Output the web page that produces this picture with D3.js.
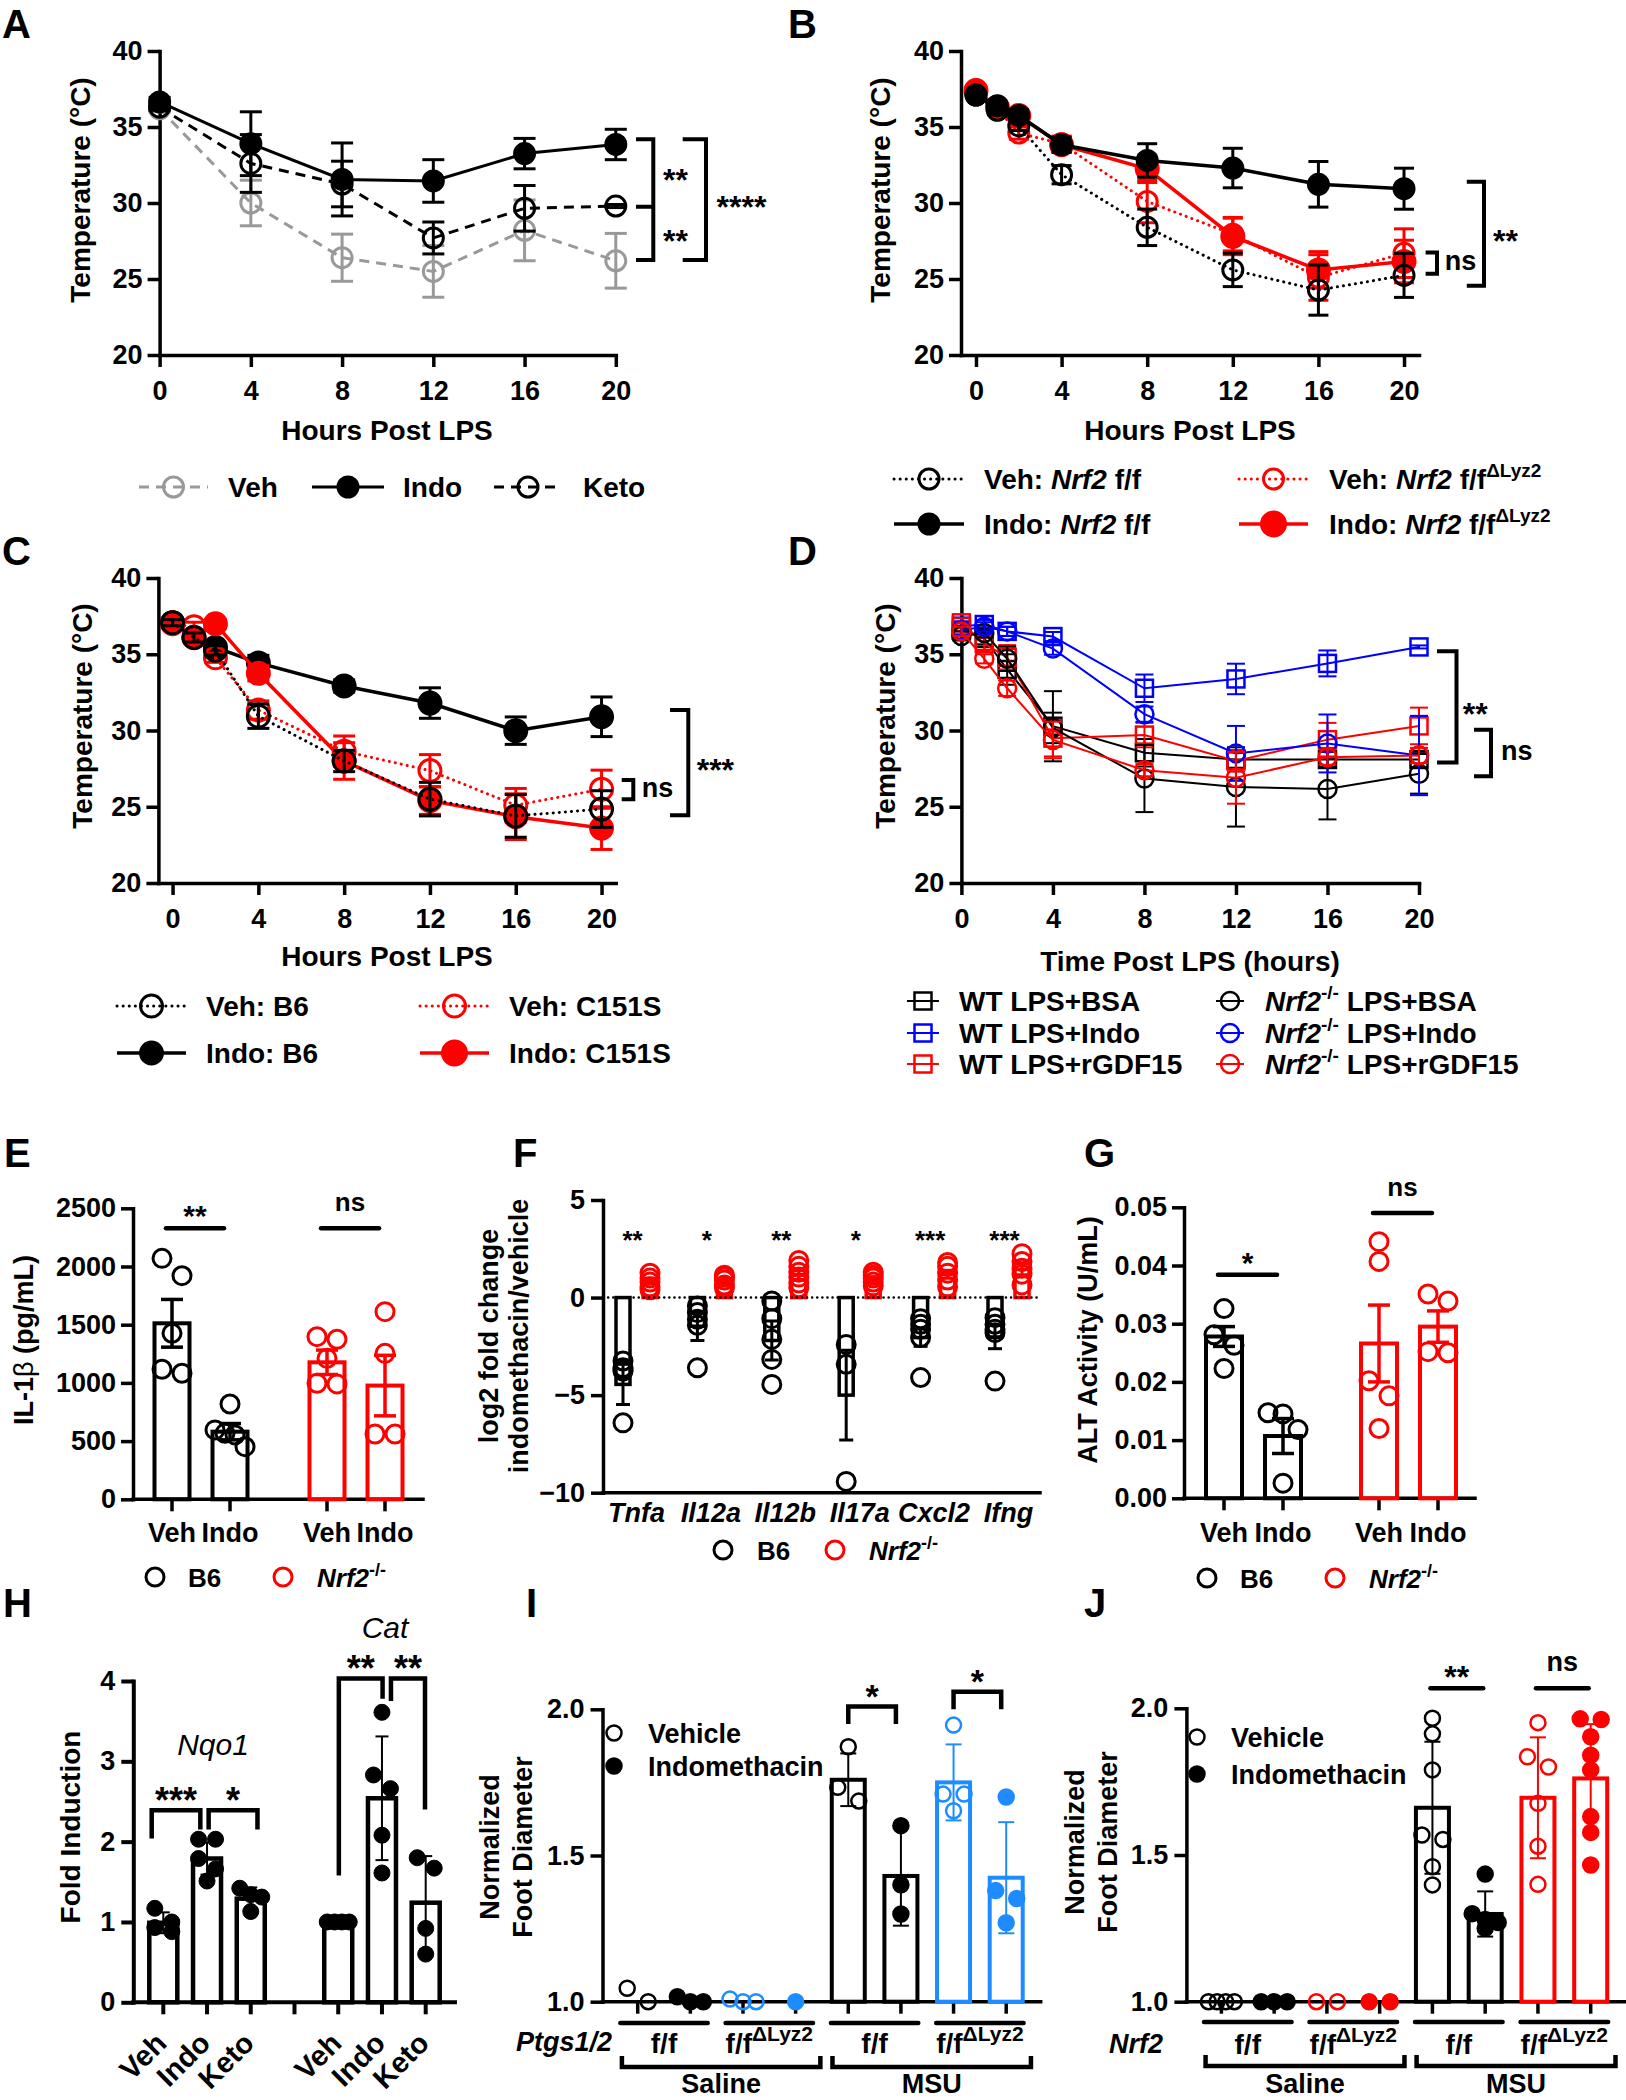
<!DOCTYPE html>
<html>
<head>
<meta charset="utf-8">
<script src="https://cdn.jsdelivr.net/npm/d3@7/dist/d3.min.js"></script>
<style>
html,body{margin:0;padding:0;background:#fff;}
svg{display:block;}
</style>
</head>
<body>
<svg id="fig" width="1626" height="2100" xmlns="http://www.w3.org/2000/svg"></svg>
<script>
// ======================= DATA =======================
// Panel A – temperature (°C), mean and SEM
const hoursA = [0, 4, 8, 12, 16, 20];
const hourTicks = [0, 4, 8, 12, 16, 20];
const tempTicks = [20, 25, 30, 35, 40];
const aVeh = [36.2, 30.0, 26.4, 25.5, 28.2, 26.2];
const aVehErr = [0.2, 1.5, 1.55, 1.7, 2.0, 1.8];
const aIndo = [36.65, 33.9, 31.55, 31.45, 33.25, 33.85];
const aIndoErr = [0.3, 2.1, 2.4, 1.4, 1.0, 1.0];
const aKeto = [36.3, 32.6, 31.25, 27.7, 29.65, 29.8];
const aKetoErr = [0.2, 1.9, 1.5, 1.05, 1.5, 0.1];
const sigA = {top: 34.2, mid: 29.75, bot: 26.25, small: ["**", "**"], big: "****"};

// Panel B
const hoursB = [0, 1, 2, 4, 8, 12, 16, 20];
const bVehFF = [37.1, 36.1, 35.07, 31.86, 28.4, 25.6, 24.27, 25.24];
const bVehFFErr = [0.2, 0.3, 0.3, 0.6, 1.2, 1.1, 1.65, 1.45];
const bIndoFF = [37.1, 36.4, 35.75, 33.83, 32.8, 32.3, 31.23, 30.94];
const bIndoFFErr = [0.2, 0.3, 0.4, 0.5, 1.1, 1.3, 1.5, 1.35];
const bVehKO = [37.45, 36.2, 34.6, 33.9, 30.1, 27.95, 25.1, 26.7];
const bVehKOErr = [0.2, 0.3, 0.4, 0.5, 1.4, 1.1, 1.5, 1.6];
const bIndoKO = [37.4, 36.3, 35.75, 33.83, 32.25, 27.8, 25.6, 26.15];
const bIndoKOErr = [0.2, 0.3, 0.4, 0.5, 0.9, 1.2, 1.2, 1.4];
const sigB = {nsTop: 26.75, nsBot: 25.35, top: 31.4, bot: 24.55, label: "**"};

// Panel C
const hoursC = [0, 1, 2, 4, 8, 12, 16, 20];
const cVehB6 = [37.07, 36.1, 35.26, 30.94, 28.0, 25.5, 24.4, 24.85];
const cVehB6Err = [0.2, 0.3, 0.3, 0.8, 0.7, 1.1, 1.4, 1.2];
const cIndoB6 = [37.07, 36.1, 35.45, 34.43, 32.92, 31.8, 29.99, 30.9];
const cIndoB6Err = [0.2, 0.3, 0.3, 0.5, 0.4, 1.0, 0.9, 1.3];
const cVehC151S = [37.0, 36.8, 34.77, 31.34, 28.64, 27.37, 25.1, 26.15];
const cVehC151SErr = [0.2, 0.3, 0.3, 0.6, 1.0, 1.05, 1.1, 1.25];
const cIndoC151S = [37.07, 36.08, 37.0, 33.75, 28.0, 25.4, 24.35, 23.6];
const cIndoC151SErr = [0.2, 0.3, 0.3, 0.5, 1.2, 0.9, 1.5, 1.4];
const sigC = {nsTop: 26.75, nsBot: 25.5, top: 31.35, bot: 24.45, label: "***"};

// Panel D
const hoursD = [0, 1, 2, 4, 8, 12, 16, 20];
const dWtBsa = [36.57, 36.05, 34.0, 30.28, 28.54, 28.1, 28.1, 28.1];
const dWtBsaErr = [0.3, 0.4, 1.0, 2.3, 0.9, 0.6, 0.5, 0.5];
const dWtIndo = [36.84, 36.95, 36.5, 36.16, 32.77, 33.38, 34.4, 35.48];
const dWtIndoErr = [0.3, 0.3, 0.3, 0.3, 0.9, 1.0, 0.85, 0.1];
const dWtGdf = [37.06, 35.7, 34.8, 29.5, 29.7, 28.0, 29.4, 30.3];
const dWtGdfErr = [0.3, 0.4, 0.8, 1.2, 0.8, 0.7, 1.1, 1.2];
const dKoBsa = [36.2, 36.4, 34.7, 30.17, 26.85, 26.3, 26.17, 27.16];
const dKoBsaErr = [0.3, 0.3, 0.8, 1.0, 2.2, 2.6, 2.0, 1.3];
const dKoIndo = [36.57, 36.8, 36.5, 35.37, 31.07, 28.5, 29.15, 28.36];
const dKoIndoErr = [0.3, 0.3, 0.3, 0.4, 0.5, 1.8, 1.9, 2.6];
const dKoGdf = [36.5, 34.7, 32.77, 29.38, 27.4, 26.9, 28.25, 28.36];
const dKoGdfErr = [0.3, 0.3, 0.5, 1.2, 0.4, 1.7, 0.5, 0.5];
const sigD = {top: 35.2, bot: 27.9, label: "**", nsTop: 30.05, nsBot: 27.0};

// Panel E – IL-1β (pg/mL)
const eGeno = ["B6", "B6", "Nrf2", "Nrf2"];
const eTreat = ["Veh", "Indo", "Veh", "Indo"];
const eMean = [1512, 581, 1177, 977];
const eSem = [205, 70, 105, 260];
const ePts = [[2070, 1921, 1426, 1117, 1083], [819, 596, 567, 553, 452], [1397, 1375, 1211, 997, 991], [1612, 1254, 561, 561]];
const eTicks = [0, 500, 1000, 1500, 2000, 2500];
const eSig = [{line: 2328, label: "**"}, {line: 2328, label: "ns"}];

// Panel F – log2 fold change
const fGenes = ["Tnfa", "Il12a", "Il12b", "Il17a", "Cxcl2", "Ifng"];
const fB6Mean = [-4.45, -1.47, -2.2, -5.0, -2.05, -2.02];
const fB6Sem = [1.03, 0.73, 1.0, 2.3, 0.45, 0.6];
const fB6Pts = [[-3.25, -3.6, -3.7, -3.77, -6.42], [-0.43, -0.77, -1.11, -1.42, -3.6], [-0.17, -1.08, -2.14, -3.17, -4.45], [-2.4, -3.42, -9.42], [-1.08, -1.37, -1.63, -2.05, -4.1], [-1.03, -1.37, -1.63, -1.8, -4.28]];
const fKoMean = [0.85, 0.85, 1.15, 0.95, 1.2, 1.45];
const fKoSem = [0.15, 0.12, 0.22, 0.12, 0.2, 0.28];
const fKoPts = [[1.25, 1.0, 0.8, 0.55, 0.4], [1.15, 1.05, 0.9, 0.65, 0.5], [1.9, 1.6, 1.3, 1.05, 0.75, 0.5], [1.3, 1.15, 1.0, 0.8, 0.6], [1.8, 1.6, 1.25, 0.9, 0.55], [2.25, 1.85, 1.5, 1.2, 0.65]];
const fSig = ["**", "*", "**", "*", "***", "***"];
const fTicks = [-10, -5, 0, 5];

// Panel G – ALT activity (U/mL)
const gGeno = ["B6", "B6", "Nrf2", "Nrf2"];
const gTreat = ["Veh", "Indo", "Veh", "Indo"];
const gMean = [0.0278, 0.0107, 0.0266, 0.0295];
const gSem = [0.0017, 0.003, 0.0066, 0.0027];
const gPts = [[0.0326, 0.0281, 0.0263, 0.0223], [0.0147, 0.0145, 0.0118, 0.0026], [0.0441, 0.0407, 0.0202, 0.0176, 0.012], [0.0351, 0.0339, 0.0252, 0.025]];
const gTicks = [0, 0.01, 0.02, 0.03, 0.04, 0.05];
const gSig = [{line: 0.0384, label: "*"}, {line: 0.049, label: "ns"}];

// Panel H – fold induction
const hSlots = ["Nqo1|Veh", "Nqo1|Indo", "Nqo1|Keto", "gap", "Cat|Veh", "Cat|Indo", "Cat|Keto"];
const hBarSlots = ["Nqo1|Veh", "Nqo1|Indo", "Nqo1|Keto", "Cat|Veh", "Cat|Indo", "Cat|Keto"];
const hLabels = ["Veh", "Indo", "Keto", "", "Veh", "Indo", "Keto"];
const hMean = [0.99, 1.79, 1.29, 1.0, 2.54, 1.24];
const hSd = [0.13, 0.2, 0.14, 0.02, 0.77, 0.58];
const hPts = [[0.88, 0.93, 1.0, 1.17], [2.03, 2.03, 1.79, 1.66, 1.51], [1.42, 1.34, 1.31, 1.13], [1.0, 1.0, 1.0, 1.0], [3.61, 2.83, 2.66, 2.08, 1.61], [1.8, 1.67, 0.92, 0.6]];
const hTicks = [0, 1, 2, 3, 4];
const hBrackets = [
  {from: "Nqo1|Veh", to: "Nqo1|Indo", top: 2.39, l: 2.04, r: 2.15, label: "***"},
  {from: "Nqo1|Indo", to: "Nqo1|Keto", top: 2.39, l: 2.15, r: 2.15, label: "*"},
  {from: "Cat|Veh", to: "Cat|Indo", top: 4.03, l: 1.58, r: 3.78, label: "**"},
  {from: "Cat|Indo", to: "Cat|Keto", top: 4.03, l: 3.75, r: 2.4, label: "**"}
];

// Panel I – normalized foot diameter (Ptgs1/2)
const footTreat = ["Veh", "Indo", "Veh", "Indo", "Veh", "Indo", "Veh", "Indo"];
const footGeno = ["f/f", "f/f", "cko", "cko", "f/f", "f/f", "cko", "cko"];
const iMean = [1.0, 1.0, 1.0, 1.0, 1.759, 1.43, 1.75, 1.424];
const iSd = [0, 0, 0, 0, 0.09, 0.17, 0.13, 0.19];
const iPts = [[1.046, 1.0], [1.017, 1.0, 1.0], [1.009, 1.0, 1.0], [1.0], [1.872, 1.733, 1.686], [1.602, 1.40, 1.30], [1.946, 1.71, 1.71, 1.653], [1.70, 1.38, 1.353, 1.27]];
const iSig = [{pair: [4, 5], top: 2.01, leg: 1.95, label: "*"}, {pair: [6, 7], top: 2.06, leg: 2.0, label: "*"}];
const footTicks = [1.0, 1.5, 2.0];

// Panel J – normalized foot diameter (Nrf2)
const jMean = [1.0, 1.0, 1.0, 1.0, 1.661, 1.299, 1.695, 1.761];
const jSd = [0, 0, 0, 0, 0.225, 0.077, 0.206, 0.185];
const jPts = [[1, 1, 1, 1], [1, 1, 1], [1, 1], [1, 1], [1.966, 1.913, 1.79, 1.568, 1.553, 1.46, 1.398], [1.435, 1.30, 1.28, 1.27, 1.25], [1.951, 1.835, 1.80, 1.676, 1.53, 1.40], [1.964, 1.962, 1.903, 1.84, 1.79, 1.631, 1.577, 1.466]];
const jSig = [{pair: [4, 5], line: 2.068, label: "**"}, {pair: [6, 7], line: 2.068, label: "ns"}];
const footGroupLabels = ["f/f", "f/fΔLyz2", "f/f", "f/fΔLyz2"];
const footTreatLabels = ["Saline", "MSU"];

// ======================= DRAWING =======================
const svg = d3.select("#fig");
const FONT = "'Liberation Sans', Arial, Helvetica, sans-serif";
svg.attr("font-family", FONT);
svg.append("rect").attr("width", 1626).attr("height", 2100).attr("fill", "#fff");
const RED = "#FF0000", BLUE = "#0000FF", GRAY = "#999999", LBLUE = "#1E8CFF", BLK = "#000";

function addText(g, x, y, parts, o = {}) {
  const fs = o.fs || 28;
  const t = g.append("text").attr("x", x).attr("y", y)
    .attr("font-size", fs).attr("font-weight", o.weight || "bold")
    .attr("text-anchor", o.anchor || "start").attr("fill", o.fill || "#000");
  if (o.italic) t.attr("font-style", "italic");
  if (o.rotate != null) t.attr("transform", `rotate(${o.rotate},${x},${y})`);
  const arr = typeof parts === "string" ? [{t: parts}] : parts;
  let raised = 0;
  arr.forEach(p => {
    const s = t.append("tspan").text(p.t);
    if (p.i) s.attr("font-style", "italic");
    if (p.w) s.attr("font-weight", p.w);
    if (p.sup) {
      const sf = Math.round(fs * (p.scale || 0.68));
      const d = fs * 0.42;
      s.attr("font-size", sf).attr("dy", -d);
      raised = d;
    } else if (raised) { s.attr("dy", raised); raised = 0; }
  });
  return t;
}
function sigText(g, x, yc, label, fs, anchor = "middle") {
  const star = /^\*+$/.test(label);
  return addText(g, x, yc + (star ? 0.57 : 0.27) * fs, label, {fs, anchor});
}
function finishAxis(ax, fs, sw) {
  ax.attr("font-family", null).attr("font-size", null);
  ax.select(".domain").attr("stroke", "#000").attr("stroke-width", sw).attr("stroke-linecap", "square");
  ax.selectAll(".tick line").attr("stroke", "#000").attr("stroke-width", sw);
  ax.selectAll(".tick text").attr("fill", "#000").attr("font-size", fs).attr("font-weight", "bold");
}
function leftAxis(g, y, x0, ticks, fmt, o = {}) {
  const ax = g.append("g").attr("transform", `translate(${x0},0)`)
    .call(d3.axisLeft(y).tickValues(ticks).tickFormat(fmt).tickSize(o.len || 12).tickSizeOuter(0).tickPadding(o.pad || 5));
  finishAxis(ax, o.fs || 27, o.sw || 3.5);
  return ax;
}
function bottomAxis(g, x, y0, ticks, fmt, o = {}) {
  const ax = g.append("g").attr("transform", `translate(0,${y0})`)
    .call(d3.axisBottom(x).tickValues(ticks).tickFormat(fmt).tickSize(o.len || 12).tickSizeOuter(0).tickPadding(o.pad || 14));
  finishAxis(ax, o.fs || 27, o.sw || 3.5);
  return ax;
}
function drawMarker(g, cx, cy, st) {
  let m;
  if (st.shape === "square") {
    m = g.append("rect").attr("x", cx - st.r).attr("y", cy - st.r).attr("width", 2 * st.r).attr("height", 2 * st.r);
  } else {
    m = g.append("circle").attr("cx", cx).attr("cy", cy).attr("r", st.r);
  }
  m.attr("fill", st.fill ? st.color : "none").attr("stroke", st.color).attr("stroke-width", st.msw);
  return m;
}
function styleLine(p, st) {
  p.attr("fill", "none").attr("stroke", st.color).attr("stroke-width", st.lw);
  if (st.dash) p.attr("stroke-dasharray", st.dash);
  if (st.dot) p.attr("stroke-linecap", "round");
  return p;
}
function errBar(g, x, y1, y2, cap, color, sw) {
  const e = g.append("g").attr("stroke", color).attr("stroke-width", sw);
  e.append("line").attr("x1", x).attr("x2", x).attr("y1", y1).attr("y2", y2);
  [y1, y2].forEach(yy => e.append("line").attr("x1", x - cap / 2).attr("x2", x + cap / 2).attr("y1", yy).attr("y2", yy));
}
function lineSeries(g, x, y, hours, vals, errs, st) {
  const pts = hours.map((h, i) => ({h, v: vals[i], e: errs[i]}));
  styleLine(g.append("path").datum(pts).attr("d", d3.line().x(d => x(d.h)).y(d => y(d.v))), st);
  pts.forEach(d => errBar(g, x(d.h), y(d.v + d.e), y(d.v - d.e), st.cap, st.color, st.ew));
  pts.forEach(d => drawMarker(g, x(d.h), y(d.v), st));
}
function legendItem(g, x1, x2, yc, st, parts, tx, fs = 28) {
  styleLine(g.append("line").attr("x1", x1).attr("x2", x2).attr("y1", yc).attr("y2", yc), st);
  drawMarker(g, (x1 + x2) / 2, yc, st);
  addText(g, tx, yc + 0.36 * fs, parts, {fs});
}
function sideBracket(g, xh, xv, ys, sw = 4) {
  const top = ys[0], bot = ys[ys.length - 1];
  let d = `M${xh},${top}H${xv}V${bot}H${xh}`;
  ys.slice(1, -1).forEach(ym => { d += `M${xh},${ym}H${xv}`; });
  g.append("path").attr("d", d).attr("fill", "none").attr("stroke", "#000").attr("stroke-width", sw);
}
function swarmOffsets(vals, y, binH, sp, maxW) {
  const order = vals.map((v, i) => i).sort((a, b) => vals[b] - vals[a]);
  const off = new Array(vals.length).fill(0);
  let bin = [];
  const flush = () => {
    const n = bin.length;
    const s = n > 1 ? Math.min(sp, maxW / (n - 1)) : 0;
    bin.forEach((idx, j) => { off[idx] = (j - (n - 1) / 2) * s; });
    bin = [];
  };
  order.forEach(i => {
    if (bin.length && Math.abs(y(vals[i]) - y(vals[bin[0]])) > binH) flush();
    bin.push(i);
  });
  flush();
  return off;
}
function bars(g, y, items, o) {
  const y0 = y(o.base);
  items.forEach(it => {
    const ym = y(it.mean);
    if (Math.abs(ym - y0) < 1) return;
    g.append("rect").attr("x", it.x - o.barW / 2).attr("y", Math.min(ym, y0)).attr("width", o.barW)
      .attr("height", Math.abs(y0 - ym)).attr("fill", "none").attr("stroke", it.color).attr("stroke-width", o.barSW);
  });
}
function errBars(g, y, items, o) {
  items.forEach(it => { if (it.err > 0) errBar(g, it.x, y(it.mean + it.err), y(it.mean - it.err), o.cap, it.color, o.errSW); });
}
function points(g, y, items, o) {
  items.forEach(it => {
    const offs = o.swarm ? swarmOffsets(it.pts, y, o.swarm[0], o.swarm[1], o.swarm[2]) : it.pts.map(() => 0);
    it.pts.forEach((v, i) => drawMarker(g, it.x + offs[i], y(v), {shape: "circle", r: o.r, color: it.color, fill: it.filled, msw: o.ptSW}));
  });
}
function xLine(g, x0, x1, y0, sw) {
  g.append("line").attr("x1", x0).attr("x2", x1).attr("y1", y0).attr("y2", y0).attr("stroke", "#000").attr("stroke-width", sw).attr("stroke-linecap", "square");
}
function xTicks(g, xs, y0, len, sw) {
  xs.forEach(x => g.append("line").attr("x1", x).attr("x2", x).attr("y1", y0).attr("y2", y0 + len).attr("stroke", "#000").attr("stroke-width", sw));
}

// ---------- panel letters ----------
[["A", 2, 38], ["B", 788, 38], ["C", 2, 565], ["D", 788, 565], ["E", 4, 1167], ["F", 513, 1167], ["G", 1084, 1167],
 ["H", 3, 1617], ["I", 526, 1617], ["J", 1084, 1617]].forEach(([s, x, y]) => addText(svg, x, y, s, {fs: 40}));

// ---------- PANEL A ----------
{
  const g = svg.append("g");
  const x = d3.scaleLinear().domain([0, 20]).range([159.6, 615.8]);
  const y = d3.scaleLinear().domain([20, 40]).range([355, 51]);
  leftAxis(g, y, 159.6, tempTicks, d3.format("d"));
  bottomAxis(g, x, 355, hourTicks, d3.format("d"));
  const st = {
    veh: {color: GRAY, lw: 3, dash: "10,7", shape: "circle", r: 10, fill: false, msw: 3, cap: 22, ew: 3},
    indo: {color: BLK, lw: 3, shape: "circle", r: 10, fill: true, msw: 3, cap: 22, ew: 3},
    keto: {color: BLK, lw: 3, dash: "10,7", shape: "circle", r: 10, fill: false, msw: 3, cap: 22, ew: 3}
  };
  lineSeries(g, x, y, hoursA, aVeh, aVehErr, st.veh);
  lineSeries(g, x, y, hoursA, aKeto, aKetoErr, st.keto);
  lineSeries(g, x, y, hoursA, aIndo, aIndoErr, st.indo);
  addText(g, 90, 190, "Temperature (°C)", {fs: 28, anchor: "middle", rotate: -90});
  addText(g, 387, 440, "Hours Post LPS", {fs: 28, anchor: "middle"});
  legendItem(g, 139, 208, 487, st.veh, "Veh", 228);
  legendItem(g, 312, 384, 487, st.indo, "Indo", 403);
  legendItem(g, 494, 562, 487, st.keto, "Keto", 583);
  sideBracket(g, 636, 653.3, [y(sigA.top), y(sigA.mid), y(sigA.bot)]);
  sideBracket(g, 682.7, 706, [y(sigA.top), y(sigA.bot)]);
  sigText(g, 675.5, (y(sigA.top) + y(sigA.mid)) / 2, sigA.small[0], 32);
  sigText(g, 675.5, (y(sigA.mid) + y(sigA.bot)) / 2, sigA.small[1], 32);
  sigText(g, 741.5, (y(sigA.top) + y(sigA.bot)) / 2, sigA.big, 32);
}

// ---------- PANEL B ----------
{
  const g = svg.append("g");
  const x = d3.scaleLinear().domain([-0.7, 20.7]).range([961, 1419]);
  const y = d3.scaleLinear().domain([20, 40]).range([355, 51]);
  leftAxis(g, y, 961, tempTicks, d3.format("d"));
  bottomAxis(g, x, 355, hourTicks, d3.format("d"));
  const st = {
    vehFF: {color: BLK, lw: 3, dash: "0.1,6", dot: true, shape: "circle", r: 10, fill: false, msw: 3, cap: 20, ew: 3},
    indoFF: {color: BLK, lw: 3.5, shape: "circle", r: 10, fill: true, msw: 3, cap: 20, ew: 3},
    vehKO: {color: RED, lw: 3, dash: "0.1,6", dot: true, shape: "circle", r: 10, fill: false, msw: 3, cap: 20, ew: 3},
    indoKO: {color: RED, lw: 3.5, shape: "circle", r: 11, fill: true, msw: 3, cap: 20, ew: 3}
  };
  lineSeries(g, x, y, hoursB, bVehKO, bVehKOErr, st.vehKO);
  lineSeries(g, x, y, hoursB, bIndoKO, bIndoKOErr, st.indoKO);
  lineSeries(g, x, y, hoursB, bVehFF, bVehFFErr, st.vehFF);
  lineSeries(g, x, y, hoursB, bIndoFF, bIndoFFErr, st.indoFF);
  addText(g, 890, 190, "Temperature (°C)", {fs: 28, anchor: "middle", rotate: -90});
  addText(g, 1190, 440, "Hours Post LPS", {fs: 28, anchor: "middle"});
  legendItem(g, 894, 964, 479, st.vehFF, [{t: "Veh: "}, {t: "Nrf2", i: true}, {t: " f/f"}], 984);
  legendItem(g, 894, 964, 524, st.indoFF, [{t: "Indo: "}, {t: "Nrf2", i: true}, {t: " f/f"}], 984);
  legendItem(g, 1239, 1308, 479, st.vehKO, [{t: "Veh: "}, {t: "Nrf2", i: true}, {t: " f/f"}, {t: "ΔLyz2", sup: true}], 1329);
  legendItem(g, 1239, 1308, 524, {...st.indoKO, r: 12}, [{t: "Indo: "}, {t: "Nrf2", i: true}, {t: " f/f"}, {t: "ΔLyz2", sup: true}], 1329);
  sideBracket(g, 1425.6, 1437, [y(sigB.nsTop), y(sigB.nsBot)]);
  sigText(g, 1444.7, (y(sigB.nsTop) + y(sigB.nsBot)) / 2, "ns", 27, "start");
  sideBracket(g, 1466.8, 1484, [y(sigB.top), y(sigB.bot)]);
  sigText(g, 1493, (y(sigB.top) + y(sigB.bot)) / 2, sigB.label, 32, "start");
}

// ---------- PANEL C ----------
{
  const g = svg.append("g");
  const x = d3.scaleLinear().domain([-0.66, 20.66]).range([158.4, 615.7]);
  const y = d3.scaleLinear().domain([20, 40]).range([883, 578]);
  leftAxis(g, y, 158.4, tempTicks, d3.format("d"));
  bottomAxis(g, x, 883, hourTicks, d3.format("d"));
  const st = {
    vehB6: {color: BLK, lw: 3, dash: "0.1,6", dot: true, shape: "circle", r: 11, fill: false, msw: 3, cap: 22, ew: 3},
    indoB6: {color: BLK, lw: 3.5, shape: "circle", r: 11, fill: true, msw: 3, cap: 22, ew: 3},
    vehC: {color: RED, lw: 3, dash: "0.1,6", dot: true, shape: "circle", r: 11, fill: false, msw: 3, cap: 22, ew: 3},
    indoC: {color: RED, lw: 3.5, shape: "circle", r: 11, fill: true, msw: 3, cap: 22, ew: 3}
  };
  lineSeries(g, x, y, hoursC, cIndoB6, cIndoB6Err, st.indoB6);
  lineSeries(g, x, y, hoursC, cIndoC151S, cIndoC151SErr, st.indoC);
  lineSeries(g, x, y, hoursC, cVehC151S, cVehC151SErr, st.vehC);
  lineSeries(g, x, y, hoursC, cVehB6, cVehB6Err, st.vehB6);
  addText(g, 92, 716, "Temperature (°C)", {fs: 28, anchor: "middle", rotate: -90});
  addText(g, 387, 966, "Hours Post LPS", {fs: 28, anchor: "middle"});
  legendItem(g, 117, 186, 1006, st.vehB6, "Veh: B6", 206);
  legendItem(g, 117, 186, 1053, st.indoB6, "Indo: B6", 206);
  legendItem(g, 420, 489, 1006, st.vehC, "Veh: C151S", 509);
  legendItem(g, 420, 489, 1053, {...st.indoC, r: 12}, "Indo: C151S", 509);
  sideBracket(g, 621.7, 633.3, [y(sigC.nsTop), y(sigC.nsBot)]);
  sigText(g, 641.7, (y(sigC.nsTop) + y(sigC.nsBot)) / 2, "ns", 27, "start");
  sideBracket(g, 670, 688.3, [y(sigC.top), y(sigC.bot)]);
  sigText(g, 696.7, (y(sigC.top) + y(sigC.bot)) / 2, sigC.label, 32, "start");
}

// ---------- PANEL D ----------
{
  const g = svg.append("g");
  const x = d3.scaleLinear().domain([0, 20]).range([961.4, 1419]);
  const y = d3.scaleLinear().domain([20, 40]).range([883, 578]);
  leftAxis(g, y, 961.4, tempTicks, d3.format("d"));
  bottomAxis(g, x, 883, hourTicks, d3.format("d"));
  const base = {lw: 2, msw: 2.5, cap: 18, ew: 2};
  const st = {
    wtBsa: {...base, color: BLK, shape: "square", r: 8.5, fill: false},
    wtIndo: {...base, color: BLUE, shape: "square", r: 8.5, fill: false},
    wtGdf: {...base, color: RED, shape: "square", r: 8.5, fill: false},
    koBsa: {...base, color: BLK, shape: "circle", r: 9, fill: false},
    koIndo: {...base, color: BLUE, shape: "circle", r: 9, fill: false},
    koGdf: {...base, color: RED, shape: "circle", r: 9, fill: false}
  };
  lineSeries(g, x, y, hoursD, dWtBsa, dWtBsaErr, st.wtBsa);
  lineSeries(g, x, y, hoursD, dWtIndo, dWtIndoErr, st.wtIndo);
  lineSeries(g, x, y, hoursD, dWtGdf, dWtGdfErr, st.wtGdf);
  lineSeries(g, x, y, hoursD, dKoBsa, dKoBsaErr, st.koBsa);
  lineSeries(g, x, y, hoursD, dKoIndo, dKoIndoErr, st.koIndo);
  lineSeries(g, x, y, hoursD, dKoGdf, dKoGdfErr, st.koGdf);
  addText(g, 895, 716, "Temperature (°C)", {fs: 28, anchor: "middle", rotate: -90});
  addText(g, 1190, 971, "Time Post LPS (hours)", {fs: 28, anchor: "middle"});
  legendItem(g, 907, 939, 1001, st.wtBsa, "WT LPS+BSA", 959);
  legendItem(g, 907, 939, 1033, st.wtIndo, "WT LPS+Indo", 959);
  legendItem(g, 907, 939, 1064, st.wtGdf, "WT LPS+rGDF15", 959);
  const ko = t => [{t: "Nrf2", i: true}, {t: "-/-", sup: true}, {t: " " + t}];
  legendItem(g, 1216, 1244, 1001, st.koBsa, ko("LPS+BSA"), 1265);
  legendItem(g, 1216, 1244, 1033, st.koIndo, ko("LPS+Indo"), 1265);
  legendItem(g, 1216, 1244, 1064, st.koGdf, ko("LPS+rGDF15"), 1265);
  sideBracket(g, 1437, 1456.5, [y(sigD.top), y(sigD.bot)]);
  sigText(g, 1462.7, (y(sigD.top) + y(sigD.bot)) / 2, sigD.label, 32, "start");
  sideBracket(g, 1474, 1491, [y(sigD.nsTop), y(sigD.nsBot)]);
  sigText(g, 1501, (y(sigD.nsTop) + y(sigD.nsBot)) / 2, "ns", 27, "start");
}

// ---------- PANELS E & G ----------
function twoGroupBar(g, o) {
  const y = d3.scaleLinear().domain(o.dom).range(o.yr);
  const xg = d3.scalePoint().domain(["B6", "Nrf2"]).range(o.gx);
  const xt = d3.scalePoint().domain(["Veh", "Indo"]).range([-o.dx, o.dx]);
  const items = o.mean.map((m, i) => ({x: xg(o.geno[i]) + xt(o.treat[i]), mean: m, err: o.sem[i], pts: o.pts[i],
    color: o.geno[i] === "B6" ? BLK : RED, filled: false, label: o.treat[i]}));
  leftAxis(g, y, o.ax, o.ticks, o.fmt, {pad: 5});
  xLine(g, o.ax, o.xEnd, y(0), 3.5);
  xTicks(g, items.map(d => d.x), y(0), 12, 3.5);
  const bo = {base: 0, barW: o.barW, barSW: 4, cap: 22, errSW: 3.5, r: 9, ptSW: 3, swarm: [18, 20, 30]};
  bars(g, y, items, bo);
  errBars(g, y, items, bo);
  points(g, y, items, bo);
  items.forEach(d => addText(g, d.x, o.labY, d.label, {fs: 27, anchor: "middle"}));
  ["B6", "Nrf2"].forEach((gg, k) => {
    const xl = xg(gg) + xt("Veh") - 6, xr = xg(gg) + xt("Indo") - 6;
    const yl = y(o.sig[k].line);
    g.append("line").attr("x1", xl).attr("x2", xr).attr("y1", yl).attr("y2", yl).attr("stroke", "#000").attr("stroke-width", 4.5).attr("stroke-linecap", "round");
    const lab = o.sig[k].label;
    sigText(g, (xl + xr) / 2, yl - (lab === "ns" ? 24 : 19), lab, lab === "ns" ? 26 : 30);
  });
  drawMarker(g, o.leg[0], o.leg[2], {shape: "circle", r: 9, color: BLK, fill: false, msw: 3});
  addText(g, o.leg[1], o.leg[2] + 9.5, "B6", {fs: 26});
  drawMarker(g, o.leg[3], o.leg[2], {shape: "circle", r: 9, color: RED, fill: false, msw: 3});
  addText(g, o.leg[4], o.leg[2] + 9.5, [{t: "Nrf2", i: true}, {t: "-/-", sup: true}], {fs: 26});
  return y;
}
{
  const g = svg.append("g");
  twoGroupBar(g, {dom: [0, 2500], yr: [1499.3, 1208.3], gx: [201, 356], dx: 29, geno: eGeno, treat: eTreat,
    mean: eMean, sem: eSem, pts: ePts, ax: 133, xEnd: 423, ticks: eTicks, fmt: d3.format("d"), barW: 35,
    labY: 1542, sig: eSig, leg: [155, 188, 1577, 283, 317]});
  addText(g, 33, 1340, [{t: "IL-1"}, {t: "β", w: "normal"}, {t: " (pg/mL)"}], {fs: 27, anchor: "middle", rotate: -90});
}
{
  const g = svg.append("g");
  twoGroupBar(g, {dom: [0, 0.05], yr: [1498.3, 1207.3], gx: [1253.5, 1408.5], dx: 29.5, geno: gGeno, treat: gTreat,
    mean: gMean, sem: gSem, pts: gPts, ax: 1184, xEnd: 1475, ticks: gTicks, fmt: d3.format(".2f"), barW: 36,
    labY: 1542, sig: gSig, leg: [1207, 1240, 1578, 1335, 1369]});
  addText(g, 1097, 1340, "ALT Activity (U/mL)", {fs: 27, anchor: "middle", rotate: -90});
}

// ---------- PANEL F ----------
{
  const g = svg.append("g");
  const y = d3.scaleLinear().domain([-10, 5]).range([1492.7, 1200]);
  const xg = d3.scalePoint().domain(fGenes).range([636.5, 1008.5]);
  const xt = d3.scalePoint().domain(["B6", "KO"]).range([-13.5, 13.5]);
  leftAxis(g, y, 603, fTicks, d3.format("d"), {pad: 6});
  xLine(g, 603, 1040, y(-10), 3.5);
  const b6 = fGenes.map((gn, i) => ({x: xg(gn) + xt("B6"), mean: fB6Mean[i], err: fB6Sem[i], pts: fB6Pts[i], color: BLK, filled: false}));
  const ko = fGenes.map((gn, i) => ({x: xg(gn) + xt("KO"), mean: fKoMean[i], err: fKoSem[i], pts: fKoPts[i], color: RED, filled: false}));
  const bo = {base: 0, barW: 14, barSW: 3.5, cap: 14, errSW: 3, r: 9, ptSW: 3};
  bars(g, y, b6, bo); bars(g, y, ko, bo);
  errBars(g, y, b6, bo); errBars(g, y, ko, bo);
  points(g, y, ko, bo); points(g, y, b6, bo);
  g.append("line").attr("x1", 603).attr("x2", 1040).attr("y1", y(0)).attr("y2", y(0))
    .attr("stroke", "#000").attr("stroke-width", 2.5).attr("stroke-dasharray", "0.1,5").attr("stroke-linecap", "round");
  fGenes.forEach((gn, i) => {
    sigText(g, xg(gn) - 4, y(3.25), fSig[i], 26);
    addText(g, xg(gn), 1522, gn, {fs: 27, anchor: "middle", italic: true});
  });
  addText(g, 498, 1336, "log2 fold change", {fs: 27, anchor: "middle", rotate: -90});
  addText(g, 528, 1336, "indomethacin/vehicle", {fs: 27, anchor: "middle", rotate: -90});
  drawMarker(g, 723, 1550, {shape: "circle", r: 9, color: BLK, fill: false, msw: 3});
  addText(g, 757, 1559.5, "B6", {fs: 26});
  drawMarker(g, 835, 1550, {shape: "circle", r: 9, color: RED, fill: false, msw: 3});
  addText(g, 869, 1559.5, [{t: "Nrf2", i: true}, {t: "-/-", sup: true}], {fs: 26});
}

// ---------- PANEL H ----------
{
  const g = svg.append("g");
  const y = d3.scaleLinear().domain([0, 4]).range([2002.3, 1681]);
  const x = d3.scalePoint().domain(hSlots).range([163.3, 425.7]);
  leftAxis(g, y, 133.3, hTicks, d3.format("d"), {pad: 6, sw: 4});
  xLine(g, 133.3, 455, y(0), 4);
  xTicks(g, hSlots.map(s => x(s)), y(0), 12, 4);
  const items = hBarSlots.map((s, i) => ({x: x(s), mean: hMean[i], err: hSd[i], pts: hPts[i], color: BLK, filled: true}));
  const bo = {base: 0, barW: 28, barSW: 4.5, cap: 13, errSW: 2, r: 8, ptSW: 1, swarm: [16, 17, 22]};
  bars(g, y, items, bo);
  points(g, y, items, bo);
  errBars(g, y, items, bo);
  hSlots.forEach((s, i) => {
    if (!hLabels[i]) return;
    addText(g, x(s) + 5, 2045, hLabels[i], {fs: 29, anchor: "end", rotate: -45});
  });
  const legOff = [[-11.6, -6.7], [1.6, 6.7], [0.6, 0.6], [9, -0.7]];
  hBrackets.forEach((b, k) => {
    const xl = x(b.from) + legOff[k][0], xr = x(b.to) + legOff[k][1];
    g.append("path").attr("d", `M${xl},${y(b.l)}V${y(b.top)}H${xr}V${y(b.r)}`).attr("fill", "none")
      .attr("stroke", "#000").attr("stroke-width", 4.5);
    sigText(g, (xl + xr) / 2, y(b.top) - 18, b.label, 36);
  });
  addText(g, 213, 1755, "Nqo1", {fs: 30, weight: "normal", italic: true, anchor: "middle"});
  addText(g, 385, 1638, "Cat", {fs: 30, weight: "normal", italic: true, anchor: "middle"});
  addText(g, 80, 1827, "Fold Induction", {fs: 28, anchor: "middle", rotate: -90});
}

// ---------- PANELS I & J ----------
function footPanel(g, o) {
  const y = d3.scaleLinear().domain([1, 2]).range(o.yr);
  const cats = d3.range(8);
  const x = d3.scalePoint().domain(cats).range(o.xr);
  const step = x.step();
  leftAxis(g, y, o.ax, footTicks, d3.format(".1f"), {pad: 6, sw: 3.5});
  xLine(g, o.ax, o.xEnd, y(1), 3.5);
  xTicks(g, cats.map(c => x(c)), y(1), 12, 3.5);
  const items = cats.map(c => ({x: x(c), mean: o.mean[c], err: o.sd[c], pts: o.pts[c],
    color: footGeno[c] === "f/f" ? BLK : o.koColor, filled: footTreat[c] === "Indo"}));
  const bo = {base: 1, barW: 33, barSW: 4, cap: 16, errSW: 2, r: 7.5, ptSW: 2.5, swarm: [o.binH, 21, 26]};
  bars(g, y, items, bo);
  errBars(g, y, items, bo);
  points(g, y, items, bo);
  drawMarker(g, o.leg[0], o.leg[1], {shape: "circle", r: 7.5, color: BLK, fill: false, msw: 2.5});
  addText(g, o.leg[0] + 34, o.leg[1] + 10, "Vehicle", {fs: 27});
  drawMarker(g, o.leg[0], o.leg[2], {shape: "circle", r: 7.5, color: BLK, fill: true, msw: 2.5});
  addText(g, o.leg[0] + 34, o.leg[2] + 10, "Indomethacin", {fs: 27});
  [0, 1, 2, 3].forEach(k => {
    const xl = x(2 * k) - 0.33 * step, xr = x(2 * k + 1) + 0.33 * step;
    g.append("line").attr("x1", xl).attr("x2", xr).attr("y1", o.gLineY).attr("y2", o.gLineY)
      .attr("stroke", "#000").attr("stroke-width", 4.5).attr("stroke-linecap", "round");
    const lab = footGroupLabels[k];
    const parts = lab.includes("Δ") ? [{t: "f/f"}, {t: "ΔLyz2", sup: true, scale: 0.74}] : [{t: lab}];
    addText(g, (xl + xr) / 2, o.gLabY, parts, {fs: 28, anchor: "middle"});
  });
  [0, 1].forEach(k => {
    const xl = x(4 * k) - 0.3 * step, xr = x(4 * k + 3) + 0.47 * step;
    g.append("path").attr("d", `M${xl},${o.brY - 11}V${o.brY}H${xr}V${o.brY - 11}`).attr("fill", "none")
      .attr("stroke", "#000").attr("stroke-width", 4.5);
    addText(g, (xl + xr) / 2, 2093, footTreatLabels[k], {fs: 27, anchor: "middle"});
  });
  addText(g, o.rowLab[0], o.rowLab[1], o.rowText, {fs: 27, anchor: "end", italic: true});
  addText(g, o.ytx[0], o.ytx[2], "Normalized", {fs: 27, anchor: "middle", rotate: -90});
  addText(g, o.ytx[1], o.ytx[2], "Foot Diameter", {fs: 27, anchor: "middle", rotate: -90});
  return {x, y};
}
{
  const g = svg.append("g");
  const {x, y} = footPanel(g, {yr: [2001.7, 1709.3], xr: [637.7, 1006.2], ax: 602.5, xEnd: 1040.7, mean: iMean, sd: iSd,
    pts: iPts, koColor: LBLUE, binH: 14, leg: [614, 1733, 1766], gLineY: 2023, gLabY: 2053, brY: 2067,
    rowLab: [612, 2051], rowText: "Ptgs1/2", ytx: [499, 532, 1847]});
  iSig.forEach(s => {
    const xl = x(s.pair[0]), xr = x(s.pair[1]) - 5;
    g.append("path").attr("d", `M${xl},${y(s.leg)}V${y(s.top)}H${xr}V${y(s.leg)}`).attr("fill", "none")
      .attr("stroke", "#000").attr("stroke-width", 4.5);
    sigText(g, (xl + xr) / 2, y(s.top) - 18, s.label, 34);
  });
}
{
  const g = svg.append("g");
  const {x, y} = footPanel(g, {yr: [2001.7, 1708.3], xr: [1221.4, 1590.7], ax: 1186.4, xEnd: 1626, mean: jMean, sd: jSd,
    pts: jPts, koColor: RED, binH: 11, leg: [1197, 1737, 1774], gLineY: 2022, gLabY: 2054, brY: 2066,
    rowLab: [1163, 2053], rowText: "Nrf2", ytx: [1084, 1117, 1842]});
  jSig.forEach(s => {
    const xl = x(s.pair[0]) - 2, xr = x(s.pair[1]) - 2;
    g.append("line").attr("x1", xl).attr("x2", xr).attr("y1", y(s.line)).attr("y2", y(s.line))
      .attr("stroke", "#000").attr("stroke-width", 4.5).attr("stroke-linecap", "round");
    sigText(g, (xl + xr) / 2, y(s.line) - (s.label === "ns" ? 25 : 19), s.label, s.label === "ns" ? 27 : 32);
  });
}
</script>
</body>
</html>
